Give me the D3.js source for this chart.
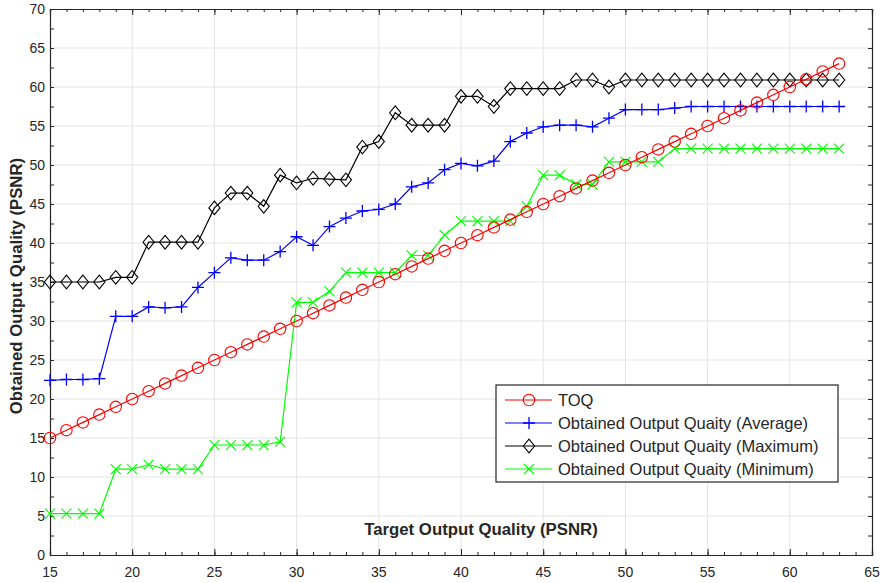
<!DOCTYPE html>
<html lang="en">
<head>
    <meta charset="UTF-8">
    <title>Obtained vs Target Output Quality</title>
    <style>
        html, body {
            margin: 0;
            padding: 0;
            background: #fff;
            overflow: hidden;
        }
        svg {
            display: block;
            font-family: "Liberation Sans", Arial, sans-serif;
        }
        .grid line {
            stroke: #e3e3e3;
            stroke-width: 1;
        }
        .tick-label {
            font-size: 14px;
            fill: #262626;
        }
        .axis-title {
            font-size: 16.8px;
            font-weight: bold;
            fill: #262626;
        }
        .legend-text {
            font-size: 16.5px;
            fill: #262626;
        }
    </style>
    <script src="https://d3js.org/d3.v7.min.js"></script>
</head>
<body>
    <svg width="882" height="583"></svg>
    <script>
        // target output quality (x)
        var targets = [15, 16, 17, 18, 19, 20, 21, 22, 23, 24, 25, 26, 27, 28, 29, 30, 31, 32,
            33, 34, 35, 36, 37, 38, 39, 40, 41, 42, 43, 44, 45, 46, 47, 48, 49, 50, 51,
            52, 53, 54, 55, 56, 57, 58, 59, 60, 61, 62, 63];

        var toq = [15, 16, 17, 18, 19, 20, 21, 22, 23, 24, 25, 26, 27, 28, 29, 30, 31, 32,
            33, 34, 35, 36, 37, 38, 39, 40, 41, 42, 43, 44, 45, 46, 47, 48, 49, 50, 51,
            52, 53, 54, 55, 56, 57, 58, 59, 60, 61, 62, 63];

        var avgQuality = [22.4, 22.5, 22.5, 22.6, 30.6, 30.6, 31.8, 31.7, 31.8, 34.3, 36.2, 38.1,
            37.8, 37.8, 38.9, 40.8, 39.7, 42.1, 43.2, 44.1, 44.3, 45.0, 47.2, 47.7, 49.4, 50.2,
            49.9, 50.5, 53.0, 54.1, 54.9, 55.1, 55.1, 54.9, 56.0, 57.1, 57.1, 57.1, 57.3, 57.5,
            57.5, 57.5, 57.5, 57.5, 57.5, 57.5, 57.5, 57.5, 57.5];

        var maxQuality = [35.0, 35.0, 35.0, 35.0, 35.6, 35.6, 40.1, 40.1, 40.1, 40.1, 44.5, 46.4,
            46.4, 44.7, 48.7, 47.7, 48.3, 48.2, 48.1, 52.3, 53.0, 56.7, 55.1, 55.1, 55.1, 58.8,
            58.8, 57.5, 59.8, 59.8, 59.8, 59.8, 60.9, 60.9, 60.0, 60.9, 60.9, 60.9, 60.9, 60.9,
            60.9, 60.9, 60.9, 60.9, 60.9, 60.9, 60.9, 60.9, 60.9];

        var minQuality = [5.3, 5.3, 5.3, 5.3, 11.0, 11.0, 11.6, 11.0, 11.0, 11.0, 14.1, 14.1,
            14.1, 14.1, 14.5, 32.4, 32.4, 33.8, 36.2, 36.2, 36.2, 36.2, 38.4, 38.4, 41.0, 42.8,
            42.8, 42.8, 42.8, 44.7, 48.7, 48.7, 47.5, 47.5, 50.4, 50.4, 50.4, 50.4, 52.1, 52.1,
            52.1, 52.1, 52.1, 52.1, 52.1, 52.1, 52.1, 52.1, 52.1];

        var xTicks = [15, 20, 25, 30, 35, 40, 45, 50, 55, 60, 65];
        var yTicks = [0, 5, 10, 15, 20, 25, 30, 35, 40, 45, 50, 55, 60, 65, 70];

        var seriesNames = ["TOQ", "Obtained Output Quaity (Average)",
            "Obtained Output Quaity (Maximum)", "Obtained Output Quaity (Minimum)"];

        var svg = d3.select("svg");
        var plotLeft = 50, plotRight = 872, plotTop = 9, plotBottom = 555;

        var x = d3.scaleLinear().domain([15, 65]).range([plotLeft, plotRight]);
        var y = d3.scaleLinear().domain([0, 70]).range([plotBottom, plotTop]);

        // grid
        var grid = svg.append("g").attr("class", "grid");
        grid.selectAll(".gx").data(xTicks.slice(1, -1)).enter().append("line")
            .attr("x1", d => x(d)).attr("x2", d => x(d))
            .attr("y1", plotTop).attr("y2", plotBottom);
        grid.selectAll(".gy").data(yTicks.slice(1, -1)).enter().append("line")
            .attr("x1", plotLeft).attr("x2", plotRight)
            .attr("y1", d => y(d)).attr("y2", d => y(d));

        // axes box with inward ticks
        var axisColor = "#262626";
        var xMinor = d3.range(15, 66, 1);
        var yMinor = d3.range(0, 70.1, 2.5);

        svg.append("g").attr("transform", "translate(0," + plotBottom + ")")
            .call(d3.axisBottom(x).tickValues(xMinor).tickSize(-3).tickFormat(""));
        svg.append("g").attr("transform", "translate(0," + plotTop + ")")
            .call(d3.axisTop(x).tickValues(xMinor).tickSize(-3).tickFormat(""));
        svg.append("g").attr("transform", "translate(0," + plotBottom + ")")
            .call(d3.axisBottom(x).tickValues(xTicks).tickSize(-6).tickFormat(""));
        svg.append("g").attr("transform", "translate(0," + plotTop + ")")
            .call(d3.axisTop(x).tickValues(xTicks).tickSize(-6).tickFormat(""));
        svg.append("g").attr("transform", "translate(" + plotLeft + ",0)")
            .call(d3.axisLeft(y).tickValues(yMinor).tickSize(-4).tickFormat(""));
        svg.append("g").attr("transform", "translate(" + plotRight + ",0)")
            .call(d3.axisRight(y).tickValues(yMinor).tickSize(-4).tickFormat(""));
        svg.selectAll(".domain").attr("stroke", axisColor).attr("stroke-width", 1.2);
        svg.selectAll(".tick line").attr("stroke", axisColor);

        // tick labels
        svg.append("g").selectAll("text").data(xTicks).enter().append("text")
            .attr("class", "tick-label")
            .attr("x", d => x(d)).attr("y", plotBottom + 22)
            .attr("text-anchor", "middle")
            .text(d => d);
        svg.append("g").selectAll("text").data(yTicks).enter().append("text")
            .attr("class", "tick-label")
            .attr("x", plotLeft - 5).attr("y", d => y(d) + 5)
            .attr("text-anchor", "end")
            .text(d => d);

        // axis titles
        svg.append("text").attr("class", "axis-title")
            .attr("x", 481).attr("y", 535)
            .attr("text-anchor", "middle")
            .text("Target Output Quality (PSNR)");
        svg.append("text").attr("class", "axis-title")
            .attr("transform", "translate(22,286) rotate(-90)")
            .attr("text-anchor", "middle")
            .text("Obtained Output Quality (PSNR)");

        // markers
        function drawMarker(g, type, color) {
            if (type === "circle") {
                g.append("circle").attr("r", 5.7).attr("fill", "none")
                    .attr("stroke", color).attr("stroke-width", 1.1);
            } else if (type === "plus") {
                g.append("path").attr("d", "M-6,0H6M0,-6V6")
                    .attr("stroke", color).attr("stroke-width", 1.3);
            } else if (type === "diamond") {
                g.append("path").attr("d", "M0,-6.8L5.6,0L0,6.8L-5.6,0Z")
                    .attr("fill", "none").attr("stroke", color).attr("stroke-width", 1.1);
            } else if (type === "cross") {
                g.append("path").attr("d", "M-5,-5L5,5M-5,5L5,-5")
                    .attr("stroke", color).attr("stroke-width", 1.1);
            }
        }

        var series = [
            { name: seriesNames[0], values: toq, color: "#ff0000", marker: "circle" },
            { name: seriesNames[1], values: avgQuality, color: "#0000ff", marker: "plus" },
            { name: seriesNames[2], values: maxQuality, color: "#000000", marker: "diamond" },
            { name: seriesNames[3], values: minQuality, color: "#00ff00", marker: "cross" }
        ];

        var line = d3.line()
            .x((d, i) => x(targets[i]))
            .y(d => y(d));

        // draw in order: average, maximum, minimum, TOQ (TOQ on top)
        [1, 2, 3, 0].forEach(function(k) {
            var s = series[k];
            var g = svg.append("g");
            g.append("path").datum(s.values)
                .attr("d", line)
                .attr("fill", "none")
                .attr("stroke", s.color)
                .attr("stroke-width", 1.2);
            s.values.forEach(function(v, i) {
                var m = g.append("g")
                    .attr("transform", "translate(" + x(targets[i]) + "," + y(v) + ")");
                drawMarker(m, s.marker, s.color);
            });
        });

        // legend
        var legend = svg.append("g").attr("transform", "translate(496,385)");
        legend.append("rect")
            .attr("width", 342).attr("height", 97)
            .attr("fill", "#fff").attr("stroke", "#262626").attr("stroke-width", 1.2);
        series.forEach(function(s, i) {
            var ly = 15 + i * 23;
            legend.append("line")
                .attr("x1", 9).attr("x2", 56)
                .attr("y1", ly).attr("y2", ly)
                .attr("stroke", s.color).attr("stroke-width", 1.2);
            var m = legend.append("g").attr("transform", "translate(33," + ly + ")");
            drawMarker(m, s.marker, s.color);
            legend.append("text").attr("class", "legend-text")
                .attr("x", 62).attr("y", ly + 6)
                .text(s.name);
        });
    </script>
</body>
</html>
